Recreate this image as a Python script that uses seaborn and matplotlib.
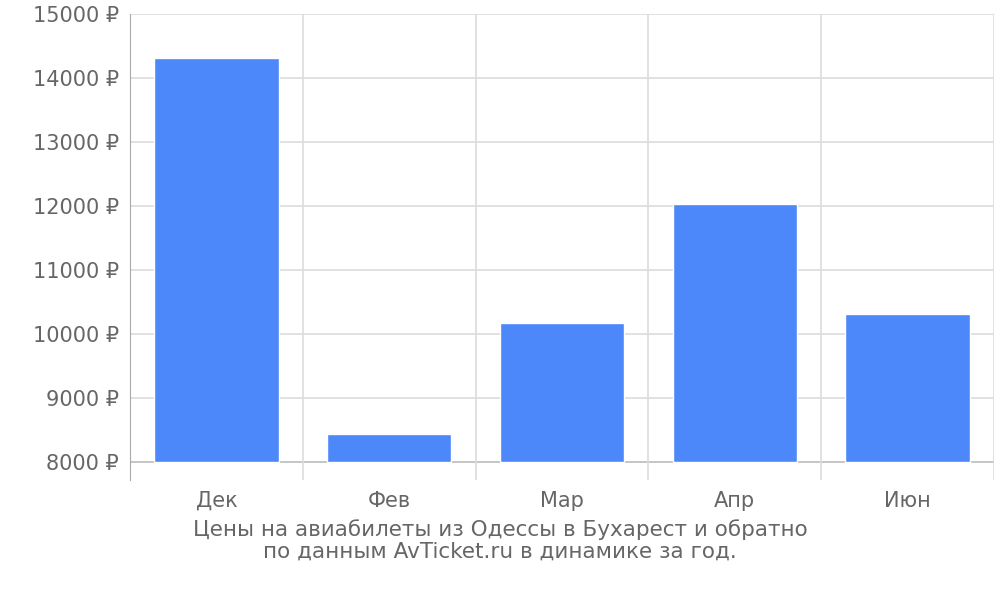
import matplotlib
matplotlib.use("Agg")
import matplotlib.pyplot as plt
import seaborn as sns
import pandas as pd

months = ["Дек", "Фев", "Мар", "Апр", "Июн"]
prices = [14312, 8437, 10172, 12031, 10312]
yticks = [8000, 9000, 10000, 11000, 12000, 13000, 14000, 15000]

sns.set_style("white")
plt.rcParams['font.family'] = ['DejaVu Sans']
fig = plt.figure(figsize=(10, 6), dpi=100)
ax = fig.add_axes([0.13, 0.2, 0.864, 0.777])
df = pd.DataFrame({"m": months, "p": prices})
sns.barplot(data=df, x="m", y="p", color="#4d88fa", width=0.72, saturation=1, ax=ax, zorder=2)
for patch in ax.patches:
    h = patch.get_height()
    patch.set_y(8000)
    patch.set_height(h - 8000)
ax.set_ylim(7720, 15000)
ax.set_xlim(-0.5, 4.5)
ax.set_yticks(yticks)
ax.set_yticklabels([f"{v} ₽" for v in yticks])
for v in yticks:
    ax.axhline(v, color="#bbbbbb" if v == 8000 else "#dcdcdc", lw=1.2, zorder=1)
for i in range(6):
    ax.axvline(i - 0.5, color="#dcdcdc", lw=1.2, zorder=1)
for s in ["top", "right", "bottom"]:
    ax.spines[s].set_visible(False)
ax.spines["left"].set_color("#aaaaaa")
ax.tick_params(axis="both", length=0, labelsize=15, colors="#666666", pad=8)
ax.set_xlabel("")
ax.set_ylabel("")
fig.text(0.5, 0.1, "Цены на авиабилеты из Одессы в Бухарест и обратно\nпо данным AvTicket.ru в динамике за год.",
         ha="center", va="center", fontsize=15.5, color="#666666", linespacing=1.1)
fig.savefig("out.png")
